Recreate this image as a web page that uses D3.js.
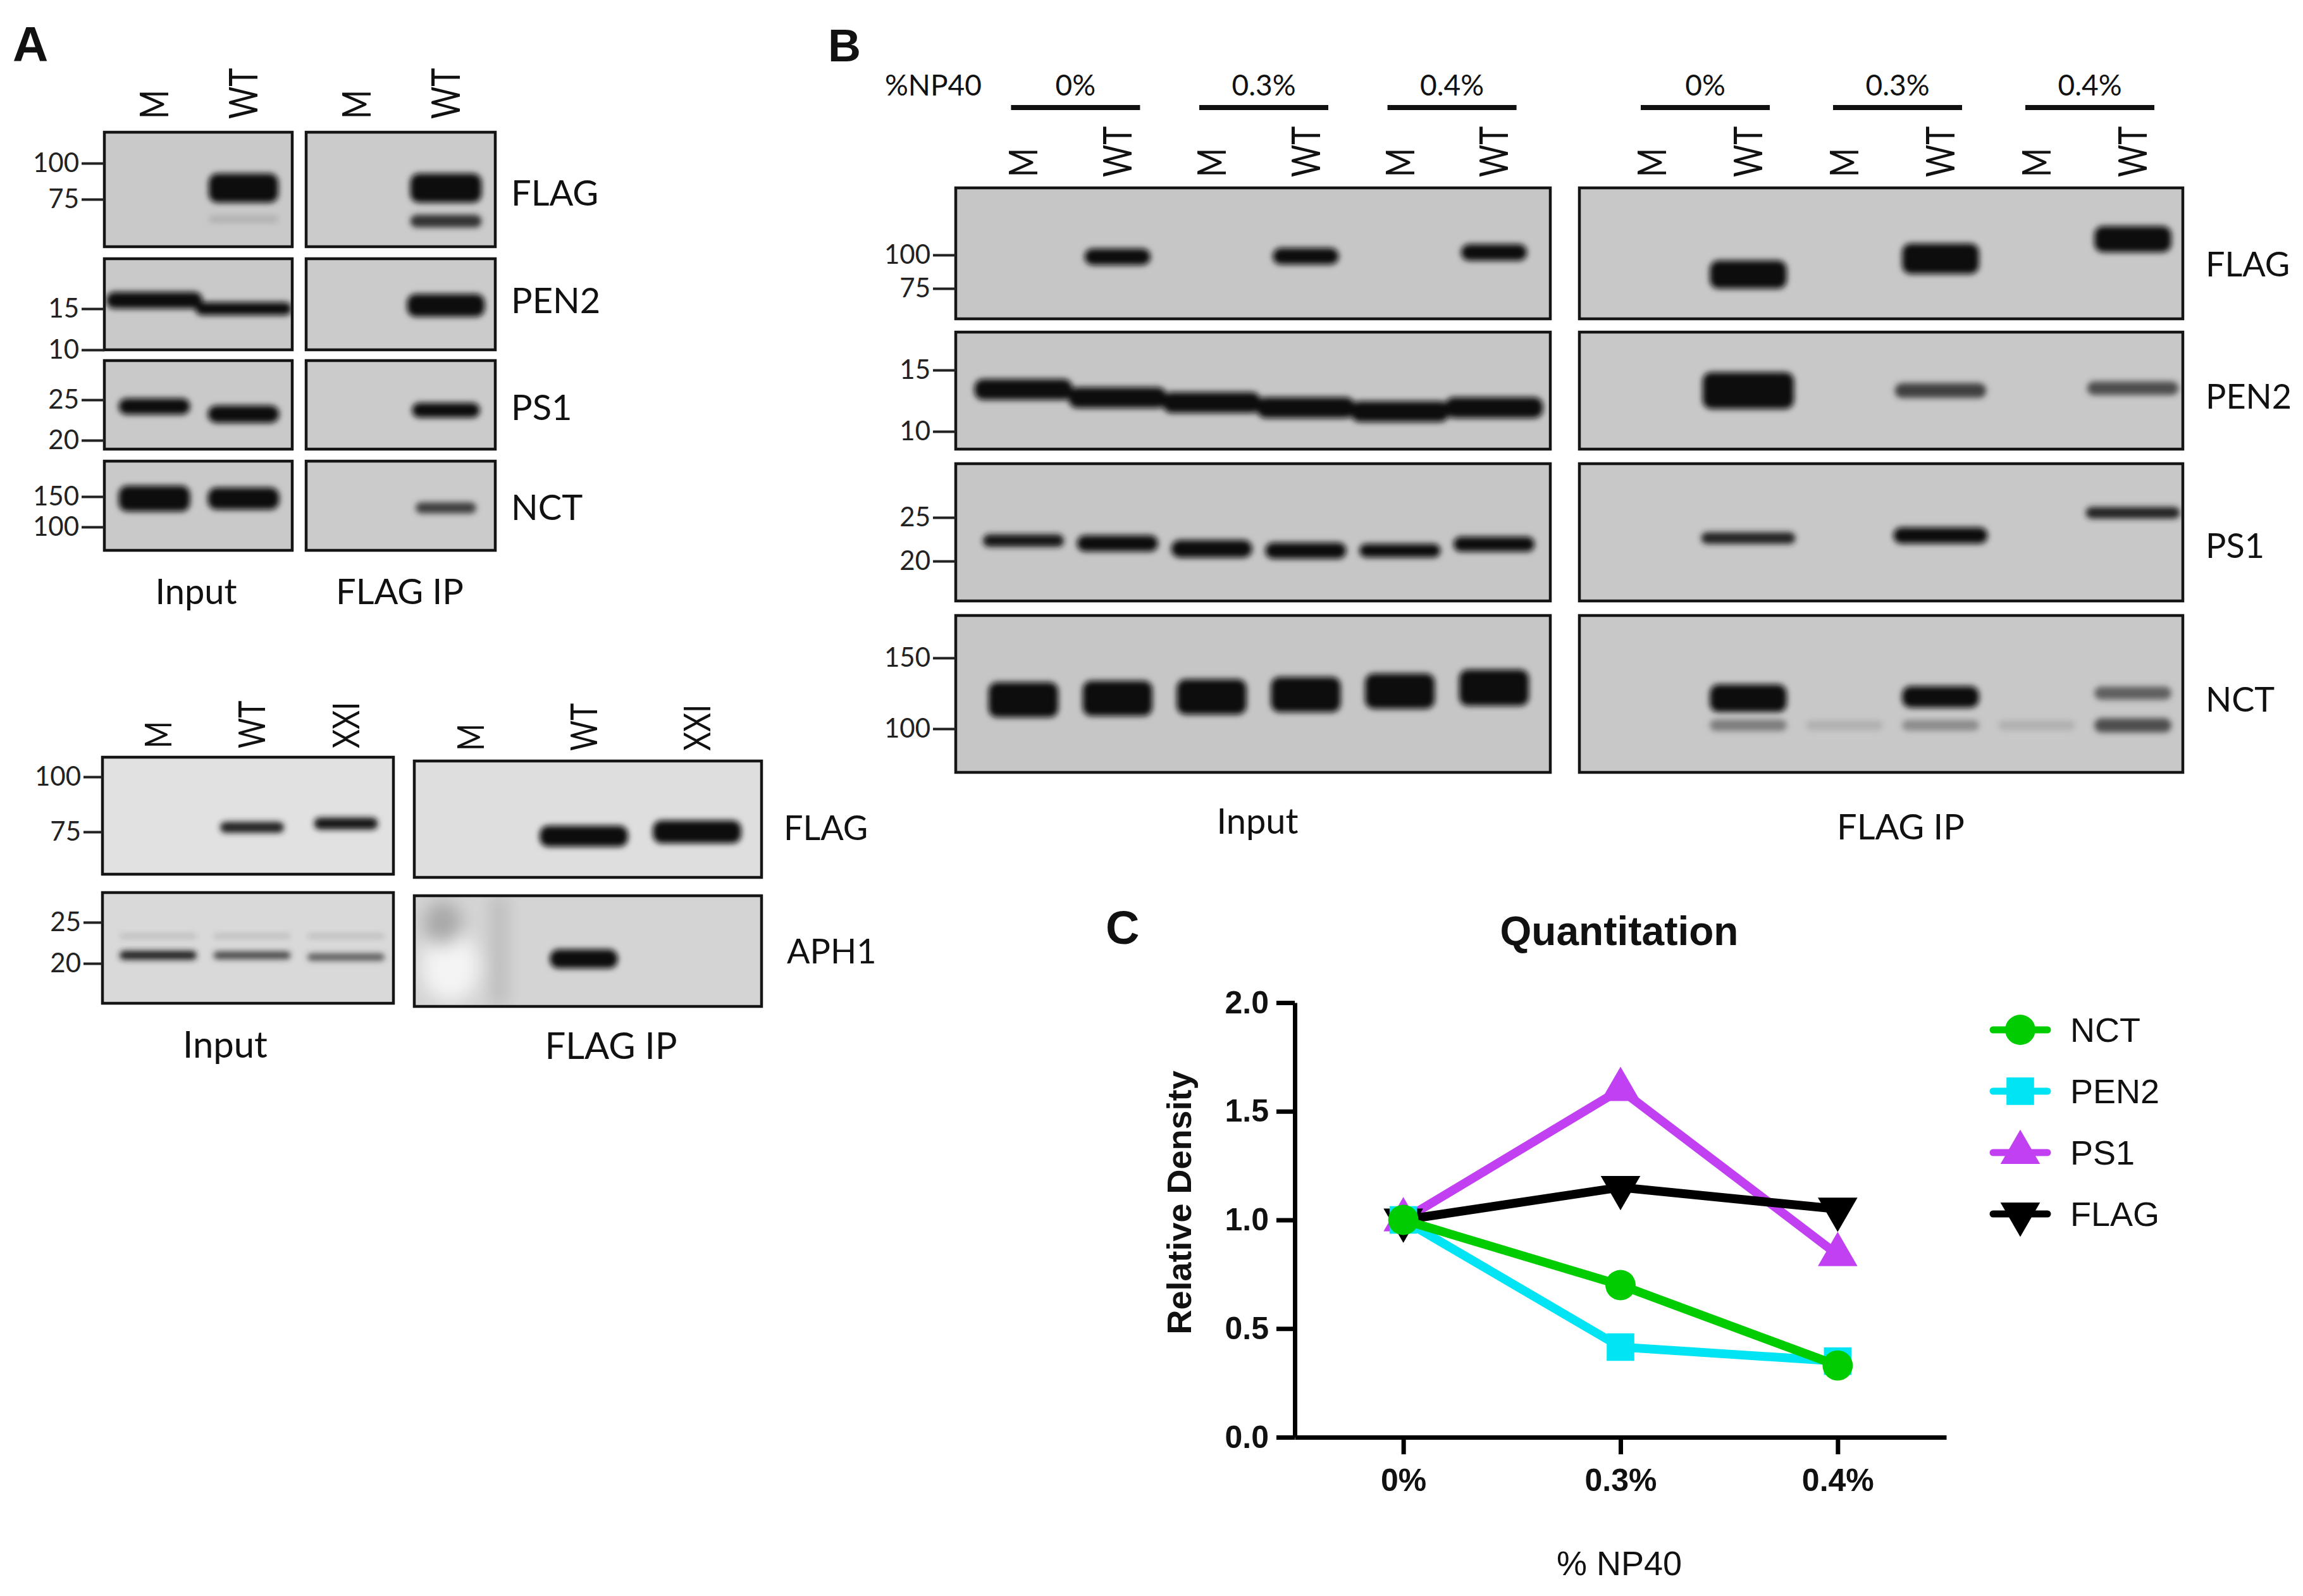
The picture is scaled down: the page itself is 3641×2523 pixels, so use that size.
<!DOCTYPE html>
<html>
<head>
<meta charset="utf-8">
<script src="https://cdn.jsdelivr.net/npm/d3@7"></script>
<style>
  body { margin: 0; background: #fff; }
  svg { display: block; }
</style>
</head>
<body>
<div id="main"></div>
<script>
// ---------------- data ----------------
// lane headers
const lanesA = ['M', 'WT'];
const lanesA2 = ['M', 'WT', 'XXI'];
const lanesB = ['M', 'WT', 'M', 'WT', 'M', 'WT'];
const detergents = ['0%', '0.3%', '0.4%'];

// molecular weight marker ticks (kDa)
const mwFlagA = [100, 75];
const mwPen2 = [15, 10];
const mwPs1 = [25, 20];
const mwNct = [150, 100];
const mwFlagA2 = [100, 75];
const mwAph1 = [25, 20];
const mwFlagB = [100, 75];

// bands: [lane index, apparent kDa, relative intensity 0..1]
const bandsA_flagIn = [[1, 82, 1.0], [1, 64, 0.08]];
const bandsA_flagIp = [[1, 82, 1.0], [1, 63, 0.5]];
const bandsA_pen2In = [[0, 16.3, 0.8], [1, 15.0, 0.65]];
const bandsA_pen2Ip = [[1, 15.5, 1.0]];
const bandsA_ps1In = [[0, 24.1, 0.85], [1, 23.1, 0.9]];
const bandsA_ps1Ip = [[1, 23.6, 0.8]];
const bandsA_nctIn = [[0, 146, 0.95], [1, 146, 0.85]];
const bandsA_nctIp = [[1, 129, 0.45]];

const bandsA2_flagIn = [[1, 76.8, 0.55], [2, 78.3, 0.6]];
const bandsA2_flagIp = [[1, 73.3, 0.95], [2, 75, 1.0]];
const bandsA2_aph1In = [[0, 20.9, 0.55], [1, 20.9, 0.45], [2, 20.7, 0.4],
                        [0, 23.2, 0.09], [1, 23.2, 0.09], [2, 23.2, 0.09]];
const bandsA2_aph1Ip = [[1, 20.5, 1.0]];

const bandsB_flagIn = [[1, 98.4, 0.62], [3, 98.9, 0.62], [5, 102.2, 0.62]];
const bandsB_flagIp = [[1, 84.5, 0.95], [3, 96.8, 1.0], [5, 114.5, 0.9]];
const bandsB_pen2In = [[0, 13.2, 0.65], [1, 12.5, 0.65], [2, 12.1, 0.65],
                       [3, 11.7, 0.65], [4, 11.4, 0.65], [5, 11.7, 0.65]];
const bandsB_pen2Ip = [[1, 13.1, 1.0], [3, 13.1, 0.45], [5, 13.3, 0.4]];
const bandsB_ps1In = [[0, 22.2, 0.6], [1, 21.9, 0.75], [2, 21.3, 0.8],
                      [3, 21.1, 0.75], [4, 21.1, 0.65], [5, 21.8, 0.7]];
const bandsB_ps1Ip = [[1, 22.5, 0.55], [3, 22.8, 0.75], [5, 25.6, 0.55]];
const bandsB_nctIn = [[0, 118, 0.95], [1, 119, 0.95], [2, 120, 0.95],
                      [3, 121.6, 0.95], [4, 124, 0.95], [5, 126.5, 0.97]];
const bandsB_nctIp = [[1, 119, 0.8], [1, 102, 0.25], [3, 120, 0.65], [3, 102, 0.2],
                      [5, 122.6, 0.35], [5, 102, 0.4], [2, 102, 0.08], [4, 102, 0.08]];

// quantitation (panel C)
const quantSeries = ['NCT', 'PEN2', 'PS1', 'FLAG'];
const nctDensity = [1.0, 0.70, 0.33];
const pen2Density = [1.0, 0.415, 0.35];
const ps1Density = [1.0, 1.60, 0.84];
const flagDensity = [1.0, 1.15, 1.05];
const densityTicks = [0, 0.5, 1.0, 1.5, 2.0];

// ---------------- setup ----------------
const width = 3641, height = 2523;
const fontBlot = 'Lato, "Open Sans", sans-serif';
const fontChart = '"Liberation Sans", Arial, sans-serif';

const svg = d3.select('#main')
  .append('svg')
    .attr('width', width)
    .attr('height', height);

svg.append('rect').attr('width', width).attr('height', height).attr('fill', '#fff');

const defs = svg.append('defs');
defs.append('filter')
    .attr('id', 'blur')
    .attr('filterUnits', 'userSpaceOnUse')
    .attr('x', 0).attr('y', 0).attr('width', width).attr('height', height)
  .append('feGaussianBlur').attr('stdDeviation', 5);
defs.append('filter')
    .attr('id', 'blurBig')
    .attr('filterUnits', 'userSpaceOnUse')
    .attr('x', 0).attr('y', 0).attr('width', width).attr('height', height)
  .append('feGaussianBlur').attr('stdDeviation', 14);

let clipCount = 0;

// one blot strip: box, bands, optional MW marker axis
function drawBlot(cfg) {
  const g = svg.append('g');
  const lane = d3.scalePoint().domain(d3.range(cfg.nLanes)).range(cfg.laneRange);
  const step = cfg.nLanes > 1 ? lane.step() : 140;
  const mw = d3.scaleLog().domain(cfg.mw).range(cfg.mwY);
  const thick = i => cfg.tmax * (0.25 + 0.75 * i * i);
  const shade = d3.interpolateRgb(cfg.bg, '#0a0a0a');
  const bw = step * cfg.bandW;

  const id = 'clip' + (clipCount++);
  defs.append('clipPath').attr('id', id)
    .append('rect')
      .attr('x', cfg.x0).attr('y', cfg.y0)
      .attr('width', cfg.x1 - cfg.x0).attr('height', cfg.y1 - cfg.y0);

  g.append('rect')
    .attr('x', cfg.x0).attr('y', cfg.y0)
    .attr('width', cfg.x1 - cfg.x0).attr('height', cfg.y1 - cfg.y0)
    .attr('fill', cfg.bg);

  const inner = g.append('g').attr('clip-path', `url(#${id})`);
  if (cfg.extra) cfg.extra(inner);

  inner.append('g').attr('filter', 'url(#blur)')
    .selectAll('rect')
    .data(cfg.bands)
    .join('rect')
      .attr('x', d => lane(d[0]) - bw / 2)
      .attr('width', bw)
      .attr('y', d => mw(d[1]) - thick(d[2]) / 2)
      .attr('height', d => thick(d[2]))
      .attr('rx', d => Math.min(thick(d[2]) / 2, 14))
      .attr('fill', d => shade(Math.min(1, d[2] * 1.6)));

  g.append('rect')
    .attr('x', cfg.x0).attr('y', cfg.y0)
    .attr('width', cfg.x1 - cfg.x0).attr('height', cfg.y1 - cfg.y0)
    .attr('fill', 'none')
    .attr('stroke', '#151515')
    .attr('stroke-width', 4.5);

  if (cfg.markers) {
    const ax = g.append('g')
      .attr('transform', `translate(${cfg.x0},0)`)
      .call(d3.axisLeft(mw).tickValues(cfg.mw).tickFormat(d3.format('d'))
              .tickSize(cfg.tickLen).tickPadding(4));
    ax.select('.domain').remove();
    ax.selectAll('line').attr('stroke', '#222').attr('stroke-width', 4);
    ax.selectAll('text')
      .attr('font-family', fontBlot)
      .attr('font-size', 42)
      .attr('fill', '#222');
  }
}

// rotated lane headers, slightly condensed like the original typeface
function laneLabels(labels, laneRange, bottomY, size) {
  const lane = d3.scalePoint().domain(d3.range(labels.length)).range(laneRange);
  svg.append('g').selectAll('text')
    .data(labels)
    .join('text')
      .attr('transform', (d, i) => `translate(${lane(i)},${bottomY}) rotate(-90) scale(0.8,1)`)
      .attr('dy', '0.36em')
      .attr('font-family', fontBlot)
      .attr('font-size', size)
      .attr('fill', '#111')
      .text(d => d);
}

function label(x, y, text, opts = {}) {
  svg.append('text')
    .attr('x', x).attr('y', y)
    .attr('dominant-baseline', 'central')
    .attr('text-anchor', opts.anchor || 'start')
    .attr('font-family', opts.font || fontBlot)
    .attr('font-size', opts.size || 54)
    .attr('font-weight', opts.weight || 'normal')
    .attr('fill', '#111')
    .text(text);
}

// ---------------- panel A (top) ----------------
const aIn = { x0: 165, x1: 462, laneRange: [244, 385] };
const aIp = { x0: 484, x1: 783, laneRange: [564, 705] };
const aRows = [
  { y0: 209, y1: 390, mw: mwFlagA, mwY: [258, 315], tmax: 46, name: 'FLAG',
    bIn: bandsA_flagIn, bIp: bandsA_flagIp, wIn: 0.78, wIp: 0.8 },
  { y0: 409, y1: 553, mw: mwPen2, mwY: [488, 553], tmax: 36, name: 'PEN2',
    bIn: bandsA_pen2In, bIp: bandsA_pen2Ip, wIn: 1.08, wIp: 0.87 },
  { y0: 570, y1: 710, mw: mwPs1, mwY: [632, 696], tmax: 32, name: 'PS1',
    bIn: bandsA_ps1In, bIp: bandsA_ps1Ip, wIn: 0.8, wIp: 0.76 },
  { y0: 729, y1: 870, mw: mwNct, mwY: [785, 833], tmax: 44, name: 'NCT',
    bIn: bandsA_nctIn, bIp: bandsA_nctIp, wIn: 0.8, wIp: 0.68 }
];
const labelYA = [303, 473, 642, 800];
aRows.forEach((r, i) => {
  drawBlot({ ...aIn, y0: r.y0, y1: r.y1, nLanes: 2, mw: r.mw, mwY: r.mwY, tmax: r.tmax,
             bands: r.bIn, bandW: r.wIn, bg: '#c9c9c9', markers: true, tickLen: 36 });
  drawBlot({ ...aIp, y0: r.y0, y1: r.y1, nLanes: 2, mw: r.mw, mwY: r.mwY, tmax: r.tmax,
             bands: r.bIp, bandW: r.wIp, bg: '#cbcbcb', markers: false });
  label(808, labelYA[i], r.name, { size: 56 });
});
laneLabels(lanesA, aIn.laneRange, 188, 62);
laneLabels(lanesA, aIp.laneRange, 188, 62);
label(310, 933, 'Input', { anchor: 'middle', size: 56 });
label(632, 933, 'FLAG IP', { anchor: 'middle', size: 56 });

// ---------------- panel A (bottom) ----------------
const a2In = { x0: 162, x1: 622, laneRange: [250, 547] };
const a2Ip = { x0: 655, x1: 1204, laneRange: [744, 1102] };
drawBlot({ ...a2In, y0: 1197, y1: 1382, nLanes: 3, mw: mwFlagA2, mwY: [1228, 1315], tmax: 36,
           bands: bandsA2_flagIn, bandW: 0.68, bg: '#e1e1e1', markers: true, tickLen: 30 });
drawBlot({ ...a2Ip, y0: 1203, y1: 1387, nLanes: 3, mw: mwFlagA2, mwY: [1228, 1315], tmax: 36,
           bands: bandsA2_flagIp, bandW: 0.78, bg: '#dedede', markers: false });
drawBlot({ ...a2In, y0: 1411, y1: 1586, nLanes: 3, mw: mwAph1, mwY: [1458, 1523], tmax: 30,
           bands: bandsA2_aph1In, bandW: 0.82, bg: '#d9d9d9', markers: true, tickLen: 30 });
drawBlot({ ...a2Ip, y0: 1416, y1: 1591, nLanes: 3, mw: mwAph1, mwY: [1458, 1523], tmax: 30,
           bands: bandsA2_aph1Ip, bandW: 0.6, bg: '#d4d4d4', markers: false,
           extra: g => {
             const blur = g.append('g').attr('filter', 'url(#blurBig)');
             blur.append('ellipse').attr('cx', 712).attr('cy', 1528).attr('rx', 45).attr('ry', 55)
               .attr('fill', '#f4f4f4');
             blur.append('ellipse').attr('cx', 700).attr('cy', 1460).attr('rx', 30).attr('ry', 35)
               .attr('fill', '#a8a8a8');
             blur.append('rect').attr('x', 780).attr('y', 1416).attr('width', 18).attr('height', 175)
               .attr('fill', '#b0b0b0');
           } });
label(1239, 1307, 'FLAG', { size: 54 });
label(1244, 1502, 'APH1', { size: 54 });
laneLabels(lanesA2, a2In.laneRange, 1183, 58);
laneLabels(lanesA2, a2Ip.laneRange, 1187, 58);
label(356, 1649, 'Input', { anchor: 'middle', size: 58 });
label(966, 1651, 'FLAG IP', { anchor: 'middle', size: 58 });

// ---------------- panel B ----------------
const bIn = { x0: 1511, x1: 2451, laneRange: [1618, 2362] };
const bIp = { x0: 2497, x1: 3451, laneRange: [2612, 3372] };
const bRows = [
  { y0: 297, y1: 504, mw: mwFlagB, mwY: [403, 456], tmax: 48, name: 'FLAG',
    bIn: bandsB_flagIn, bIp: bandsB_flagIp, wIn: 0.7, wIp: 0.8 },
  { y0: 525, y1: 710, mw: mwPen2, mwY: [585, 682], tmax: 58, name: 'PEN2',
    bIn: bandsB_pen2In, bIp: bandsB_pen2Ip, wIn: 1.04, wIp: 0.95 },
  { y0: 733, y1: 950, mw: mwPs1, mwY: [818, 887], tmax: 38, name: 'PS1',
    bIn: bandsB_ps1In, bIp: bandsB_ps1Ip, wIn: 0.86, wIp: 0.98 },
  { y0: 973, y1: 1221, mw: mwNct, mwY: [1040, 1152], tmax: 60, name: 'NCT',
    bIn: bandsB_nctIn, bIp: bandsB_nctIp, wIn: 0.74, wIp: 0.8 }
];
const labelYB = [416, 625, 861, 1104];
bRows.forEach((r, i) => {
  drawBlot({ ...bIn, y0: r.y0, y1: r.y1, nLanes: 6, mw: r.mw, mwY: r.mwY, tmax: r.tmax,
             bands: r.bIn, bandW: r.wIn, bg: '#c6c6c6', markers: true, tickLen: 36 });
  drawBlot({ ...bIp, y0: r.y0, y1: r.y1, nLanes: 6, mw: r.mw, mwY: r.mwY, tmax: r.tmax,
             bands: r.bIp, bandW: r.wIp, bg: '#c8c8c8', markers: false });
  label(3487, labelYB[i], r.name, { size: 54 });
});
laneLabels(lanesB, bIn.laneRange, 280, 62);
laneLabels(lanesB, bIp.laneRange, 280, 62);

// detergent group headers
label(1399, 133, '%NP40', { size: 46 });
[bIn, bIp].forEach(col => {
  const lane = d3.scalePoint().domain(d3.range(6)).range(col.laneRange);
  const grp = svg.append('g');
  detergents.forEach((d, k) => {
    const cx = (lane(2 * k) + lane(2 * k + 1)) / 2 + 8;
    grp.append('line')
      .attr('x1', cx - 102).attr('x2', cx + 102)
      .attr('y1', 170).attr('y2', 170)
      .attr('stroke', '#111').attr('stroke-width', 8);
    grp.append('text')
      .attr('x', cx).attr('y', 133)
      .attr('text-anchor', 'middle').attr('dominant-baseline', 'central')
      .attr('font-family', fontBlot).attr('font-size', 46).attr('fill', '#111')
      .text(d);
  });
});
label(1988, 1296, 'Input', { anchor: 'middle', size: 56 });
label(3005, 1305, 'FLAG IP', { anchor: 'middle', size: 56 });

// panel letters
label(20, 70, 'A', { font: fontChart, weight: 'bold', size: 78 });
label(1309, 72, 'B', { font: fontChart, weight: 'bold', size: 72 });
label(1748, 1466, 'C', { font: fontChart, weight: 'bold', size: 74 });

// ---------------- panel C: quantitation ----------------
const x = d3.scalePoint().domain(detergents).range([2047, 3077]).padding(0.5);
const y = d3.scaleLinear().domain([0, 2]).range([2272, 1585]);
const colors = d3.scaleOrdinal().domain(quantSeries).range(['#00cc00', '#00e4f4', '#c040f2', '#000000']);
const symbols = {
  NCT: d3.symbol().type(d3.symbolCircle).size(1800),
  PEN2: d3.symbol().type(d3.symbolSquare).size(1900),
  PS1: d3.symbol().type(d3.symbolTriangle).size(1700),
  FLAG: d3.symbol().type(d3.symbolTriangle).size(1700)
};
const rot = s => s === 'FLAG' ? ' rotate(180)' : '';
const seriesValues = { NCT: nctDensity, PEN2: pen2Density, PS1: ps1Density, FLAG: flagDensity };
const drawOrder = ['PS1', 'FLAG', 'PEN2', 'NCT'];

const gc = svg.append('g');

const yAxis = gc.append('g')
  .attr('transform', 'translate(2047,0)')
  .call(d3.axisLeft(y).tickValues(densityTicks).tickFormat(d3.format('.1f'))
          .tickSize(29).tickSizeOuter(0).tickPadding(12));
const xAxis = gc.append('g')
  .attr('transform', 'translate(0,2272)')
  .call(d3.axisBottom(x).tickSize(27).tickSizeOuter(0).tickPadding(22));
[yAxis, xAxis].forEach(a => {
  a.select('.domain').attr('stroke', '#000').attr('stroke-width', 7);
  a.selectAll('line').attr('stroke', '#000').attr('stroke-width', 7);
  a.selectAll('text')
    .attr('font-family', fontChart).attr('font-size', 50)
    .attr('font-weight', 'bold').attr('fill', '#111');
});

const line = d3.line().x((d, i) => x(detergents[i])).y(d => y(d));
drawOrder.forEach(s => {
  gc.append('path')
    .datum(seriesValues[s])
    .attr('d', line)
    .attr('fill', 'none')
    .attr('stroke', colors(s))
    .attr('stroke-width', 14);
  gc.append('g').selectAll('path')
    .data(seriesValues[s])
    .join('path')
      .attr('transform', (d, i) => `translate(${x(detergents[i])},${y(d)})${rot(s)}`)
      .attr('d', symbols[s]())
      .attr('fill', colors(s));
});

gc.append('text')
  .attr('x', 2560).attr('y', 1472)
  .attr('text-anchor', 'middle').attr('dominant-baseline', 'central')
  .attr('font-family', fontChart).attr('font-size', 64).attr('font-weight', 'bold')
  .attr('fill', '#111')
  .text('Quantitation');
gc.append('text')
  .attr('transform', 'translate(1864,1901) rotate(-90)')
  .attr('text-anchor', 'middle').attr('dominant-baseline', 'central')
  .attr('font-family', fontChart).attr('font-size', 54).attr('font-weight', 'bold')
  .attr('fill', '#111')
  .text('Relative Density');
gc.append('text')
  .attr('x', 2560).attr('y', 2471)
  .attr('text-anchor', 'middle').attr('dominant-baseline', 'central')
  .attr('font-family', fontChart).attr('font-size', 54)
  .attr('fill', '#111')
  .text('% NP40');

// legend
const legendY = d3.scalePoint().domain(quantSeries).range([1628, 1919]);
const lg = gc.append('g').selectAll('g')
  .data(quantSeries)
  .join('g')
    .attr('transform', d => `translate(3194,${legendY(d)})`);
lg.append('line')
  .attr('x1', -43).attr('x2', 43)
  .attr('stroke', d => colors(d))
  .attr('stroke-width', 11)
  .attr('stroke-linecap', 'round');
lg.append('path')
  .attr('d', d => symbols[d]())
  .attr('transform', d => rot(d).trim())
  .attr('fill', d => colors(d));
lg.append('text')
  .attr('x', 79)
  .attr('dominant-baseline', 'central')
  .attr('font-family', fontChart).attr('font-size', 54)
  .attr('fill', '#111')
  .text(d => d);
</script>
</body>
</html>
